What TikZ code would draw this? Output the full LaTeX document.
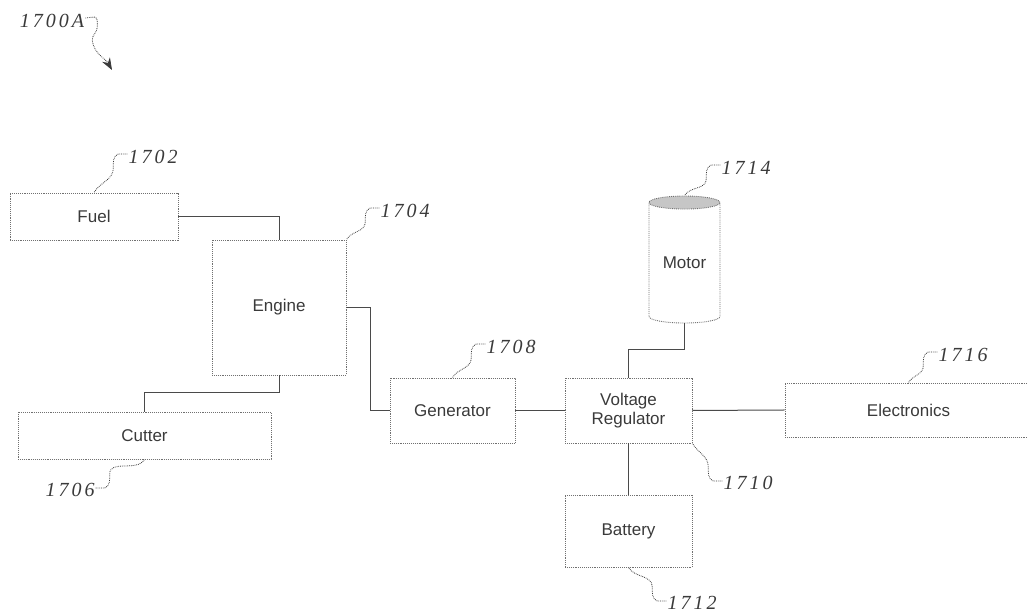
\documentclass[tikz,border=0pt]{standalone}
\usepackage{fontspec}
\setmainfont{Liberation Sans}
\newfontfamily\refnumfont[LetterSpace=15]{Liberation Serif}
\usetikzlibrary{arrows.meta, shapes.geometric}
\definecolor{PatInk}{HTML}{3A3A3A}
\definecolor{PatLine}{HTML}{707070}
\definecolor{PatWire}{HTML}{4A4A4A}

\begin{document}
\begin{tikzpicture}[
  x=1pt, y=1pt,
  font=\fontsize{17}{19}\selectfont,
  block/.style={rectangle, draw=PatLine, densely dotted, line width=0.9pt,
                text=PatInk, align=center, inner sep=0pt},
  motorcyl/.style={cylinder, shape border rotate=90, aspect=0.3, draw=PatLine,
                   densely dotted, line width=0.9pt, text=PatInk,
                   cylinder uses custom fill, cylinder body fill=white,
                   cylinder end fill=gray!45, inner sep=0pt},
  wire/.style={draw=PatWire, line width=1pt},
  refnum/.style={text=PatInk, font=\refnumfont\itshape\fontsize{20}{22}\selectfont,
                 inner sep=1pt},
  lead/.style={draw=PatInk, densely dotted, line width=0.8pt},
]
\useasboundingbox (0,0) rectangle (1028,615);
\clip (0,0) rectangle (1028,615);

% --- blocks ---
\node[block, minimum width=168, minimum height=47] (fuel) at (94,398.5) {Fuel};
\node[block, minimum width=134, minimum height=135] (engine) at (279,307.5) {Engine};
\node[block, minimum width=253, minimum height=47] (cutter) at (144.5,179.5) {Cutter};
\node[block, minimum width=125, minimum height=65] (gen) at (452.5,204.5) {Generator};
\node[block, minimum width=127, minimum height=65] (vreg) at (628.5,204.5)
  {Voltage\\Regulator};
\node[block, minimum width=127, minimum height=72] (batt) at (628.5,84) {Battery};
\node[block, minimum width=247, minimum height=54] (elec) at (908.5,205) {Electronics};
\node[motorcyl, minimum width=71, minimum height=127] (motor) at (684.5,352) {Motor};

% --- wiring ---
\draw[wire] (fuel.east) -| (engine.north);
\draw[wire] (engine.south) -- ++(0,-17) -| (cutter.north);
\draw[wire] (engine.east) -- ++(24,0) |- (gen.west);
\draw[wire] (gen.east) -- (vreg.west);
\draw[wire] (vreg.north) -- ++(0,28) -| (motor.south);
\draw[wire] (vreg.east) -- (elec.west);
\draw[wire] (vreg.south) -- (batt.north);

% --- reference numerals ---
\node[refnum] (n1700) at (52,594) {1700A};
\node[refnum] (n1702) at (153,458) {1702};
\node[refnum] (n1704) at (405,404) {1704};
\node[refnum] (n1706) at (70,125) {1706};
\node[refnum] (n1708) at (511,268) {1708};
\node[refnum] (n1710) at (748,132) {1710};
\node[refnum] (n1712) at (692,12) {1712};
\node[refnum] (n1714) at (746,447) {1714};
\node[refnum] (n1716) at (963,260) {1716};
\coordinate (aim1700) at (112,545);

% --- leader lines ---
\draw[lead, -{Stealth[length=12pt, width=9pt]}] ([yshift=3pt]n1700.east) -- ++(9,1)
  to[out=-10,in=90] ++(3,-10) to[out=-90,in=100] ++(-5,-14) to[out=-80,in=120] (aim1700);
\draw[lead] ([yshift=3pt]n1702.west) -- ++(-9,0) to[out=200,in=90] ++(-5,-14)
  to[out=-90,in=60] (fuel.north);
\draw[lead] ([yshift=3pt]n1704.west) -- ++(-9,0) to[out=200,in=90] ++(-5,-14)
  to[out=-90,in=60] (engine.north east);
\draw[lead] ([yshift=2pt]n1706.east) -- ++(9,0) to[out=20,in=-90] ++(5,14)
  to[out=90,in=-120] (cutter.south);
\draw[lead] ([yshift=3pt]n1708.west) -- ++(-9,0) to[out=200,in=90] ++(-5,-14)
  to[out=-90,in=60] (gen.north);
\draw[lead] ([yshift=2pt]n1710.west) -- ++(-9,0) to[out=160,in=-90] ++(-5,14)
  to[out=90,in=-60] (vreg.south east);
\draw[lead] ([yshift=2pt]n1712.west) -- ++(-9,0) to[out=160,in=-90] ++(-5,14)
  to[out=90,in=-60] (batt.south);
\draw[lead] ([yshift=3pt]n1714.west) -- ++(-9,0) to[out=200,in=90] ++(-5,-14)
  to[out=-90,in=60] (motor.north);
\draw[lead] ([yshift=3pt]n1716.west) -- ++(-9,0) to[out=200,in=90] ++(-5,-14)
  to[out=-90,in=60] (elec.north);

\end{tikzpicture}
\end{document}
